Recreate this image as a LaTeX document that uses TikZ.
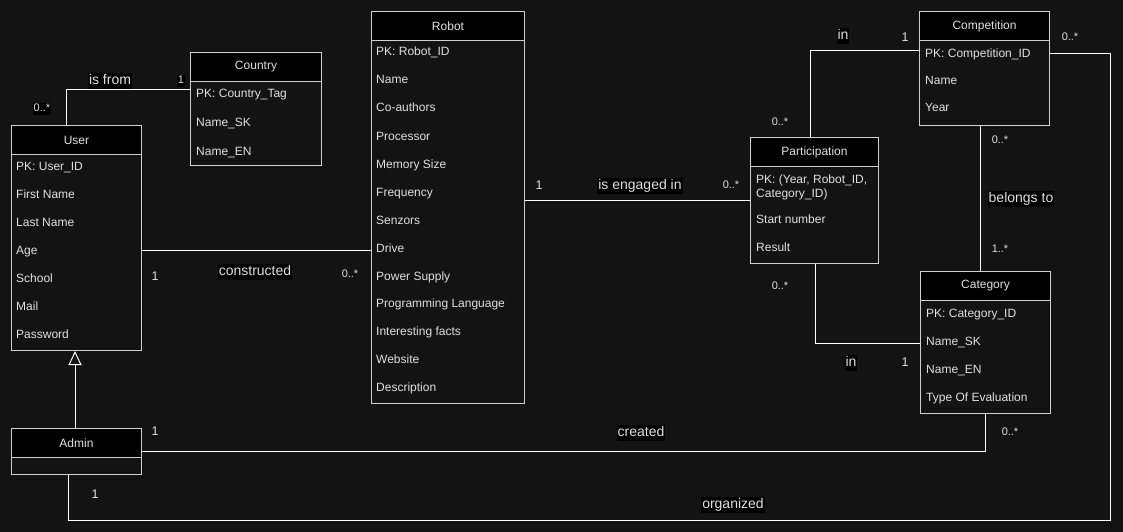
\documentclass[tikz,border=0pt]{standalone}
\usepackage{fontspec}
\setmainfont{Liberation Sans}
\usetikzlibrary{arrows.meta,calc}
\definecolor{bgc}{HTML}{131313}
\definecolor{txt}{HTML}{E0E0E0}
\definecolor{bord}{HTML}{D0D0D0}
\tikzset{
 classbox/.style={draw=bord, line width=1pt, anchor=north west, inner sep=0pt, fill=bgc},
 headbox/.style={draw=bord, line width=1pt, fill=black, anchor=north west, inner sep=0pt, minimum height=29pt, text=txt, font=\fontsize{12}{14}\selectfont},
 attr/.style={anchor=west, text=txt, inner sep=0pt, text height=9pt, text depth=3pt, font=\fontsize{12}{14}\selectfont},
 conn/.style={draw=white, line width=1pt},
 rel/.style={fill=black, text=txt, inner sep=1pt, text height=10.5pt, text depth=3pt, font=\fontsize{14}{16}\selectfont},
 mult/.style={text=txt, inner sep=1pt, text height=8pt, text depth=2pt, font=\fontsize{11}{13}\selectfont},
 multb/.style={mult, fill=black},
 one/.style={text=txt, inner sep=1pt, text height=9pt, text depth=2pt, font=\fontsize{12.5}{14}\selectfont},
}
\begin{document}
\begin{tikzpicture}[x=1pt,y=-1pt]
\fill[bgc] (0,0) rectangle (1123,532);
\useasboundingbox (0,0) rectangle (1123,532);

% ---------- User ----------
\node[classbox, minimum width=130pt, minimum height=225pt] (user) at (11,125) {};
\node[headbox, minimum width=130pt] (userh) at (11,125) {User};
\node[attr] (u1) at (16,167) {PK: User\_ID};
\node[attr] (u2) at (16,195) {First Name};
\node[attr] (u3) at (16,223) {Last Name};
\node[attr] (u4) at (16,251) {Age};
\node[attr] (u5) at (16,279) {School};
\node[attr] (u6) at (16,307) {Mail};
\node[attr] (u7) at (16,335) {Password};

% ---------- Country ----------
\node[classbox, minimum width=131pt, minimum height=113pt] (country) at (190,52) {};
\node[headbox, minimum width=131pt] (countryh) at (190,52) {Country};
\node[attr] (c1) at (196,95) {PK: Country\_Tag};
\node[attr] (c2) at (196,124) {Name\_SK};
\node[attr] (c3) at (196,152) {Name\_EN};

% ---------- Robot ----------
\node[classbox, minimum width=153pt, minimum height=392pt] (robot) at (371,11) {};
\node[headbox, minimum width=153pt] (roboth) at (371,11) {Robot};
\node[attr] (r1) at (376,53) {PK: Robot\_ID};
\node[attr] (r2) at (376,81) {Name};
\node[attr] (r3) at (376,109) {Co-authors};
\node[attr] (r4) at (376,137) {Processor};
\node[attr] (r5) at (376,165) {Memory Size};
\node[attr] (r6) at (376,193) {Frequency};
\node[attr] (r7) at (376,221) {Senzors};
\node[attr] (r8) at (376,249) {Drive};
\node[attr] (r9) at (376,277) {Power Supply};
\node[attr] (r10) at (376,304) {Programming Language};
\node[attr] (r11) at (376,332) {Interesting facts};
\node[attr] (r12) at (376,360) {Website};
\node[attr] (r13) at (376,388) {Description};

% ---------- Competition ----------
\node[classbox, minimum width=130pt, minimum height=114pt] (comp) at (919,11) {};
\node[headbox, minimum width=130pt] (comph) at (919,11) {Competition};
\node[attr] (k1) at (925,55) {PK: Competition\_ID};
\node[attr] (k2) at (925,82) {Name};
\node[attr] (k3) at (925,109) {Year};

% ---------- Participation ----------
\node[classbox, minimum width=128pt, minimum height=126pt] (part) at (750,137) {};
\node[headbox, minimum width=128pt] (parth) at (750,137) {Participation};
\node[attr] (p1a) at (756,180) {PK: (Year, Robot\_ID,};
\node[attr] (p1b) at (756,194) {Category\_ID)};
\node[attr] (p2) at (756,220) {Start number};
\node[attr] (p3) at (756,248) {Result};

% ---------- Category ----------
\node[classbox, minimum width=130pt, minimum height=142pt] (cat) at (920,271) {};
\node[headbox, minimum width=130pt] (cath) at (920,271) {Category};
\node[attr] (g1) at (926,314) {PK: Category\_ID};
\node[attr] (g2) at (926,342) {Name\_SK};
\node[attr] (g3) at (926,370) {Name\_EN};
\node[attr] (g4) at (926,398) {Type Of Evaluation};

% ---------- Admin ----------
\node[classbox, minimum width=130pt, minimum height=46pt] (admin) at (11,428) {};
\node[headbox, minimum width=130pt] (adminh) at (11,428) {Admin};

% ---------- connectors ----------
\draw[conn] ([xshift=55pt]user.north west) |- ([yshift=-38pt]country.north west);
\draw[conn] ([yshift=-125pt]user.north east) -- ([yshift=-239pt]robot.north west);
\draw[conn] ([yshift=-189pt]robot.north east) -- ([yshift=-63pt]part.north west);
\draw[conn] ([xshift=60pt]part.north west) |- ([yshift=-40pt]comp.north west);
\draw[conn] ([xshift=61pt]comp.south west) -- ([xshift=60pt]cat.north west);
\draw[conn] ([xshift=65pt]part.south west) |- ([yshift=-72pt]cat.north west);
\draw[conn, -{Triangle[open, length=14pt, width=13pt, fill=bgc]}] ([xshift=64pt]admin.north west) -- ([xshift=64pt]user.south west);
\draw[conn] ([yshift=-23pt]admin.north east) -| ([xshift=65pt]cat.south west);
\coordinate (orgcorner) at (1110,520);
\draw[conn] ([xshift=57pt]admin.south west) |- (orgcorner) |- ([yshift=-43pt]comp.north east);

% ---------- labels ----------
\node[rel] (lisfrom) at (110,81) {is from};
\node[multb] (lc1) at (181,81) {1};
\node[multb] (lu0) at (42,109) {0..*};
\node[rel] (lcons) at (255,272) {constructed};
\node[one] (lu1) at (155,277) {1};
\node[mult] (lr0) at (350,274) {0..*};
\node[one] (lr1) at (539,186) {1};
\node[rel] (leng) at (640,186) {is engaged in};
\node[mult] (lp0) at (731,185) {0..*};
\node[rel] (lin1) at (843,36) {in};
\node[one] (lk1) at (905,38) {1};
\node[mult] (lp0b) at (780,122) {0..*};
\node[mult] (lk0) at (1000,140) {0..*};
\node[rel] (lbel) at (1021,199) {belongs to};
\node[mult] (lg1) at (1000,249) {1..*};
\node[mult] (lp0c) at (780,286) {0..*};
\node[rel] (lin2) at (851,363) {in};
\node[one] (lg1b) at (905,363) {1};
\node[one] (la1) at (155,432) {1};
\node[rel] (lcre) at (641,433) {created};
\node[mult] (lg0) at (1010,432) {0..*};
\node[one] (la1b) at (95,495) {1};
\node[rel] (lorg) at (733,505) {organized};
\node[mult] (lk0b) at (1070,38) {0..*};
\end{tikzpicture}
\end{document}
